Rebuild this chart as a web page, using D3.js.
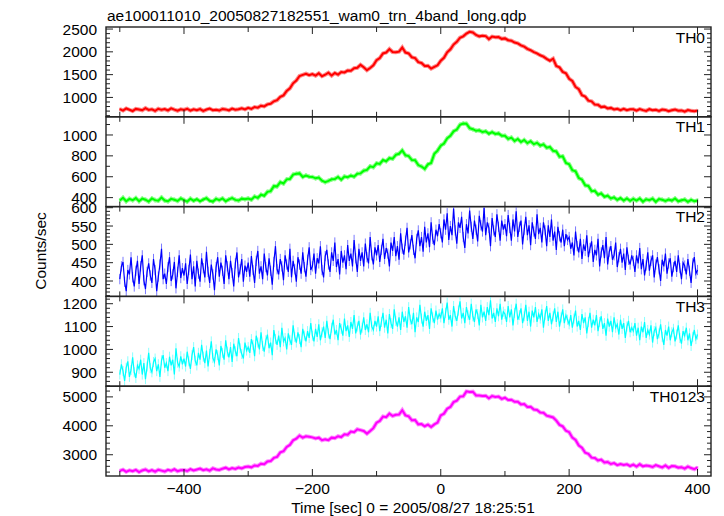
<!DOCTYPE html>
<html><head><meta charset="utf-8">
<script src="https://cdn.jsdelivr.net/npm/d3@7"></script>
<style>body{margin:0;background:#fff}svg{display:block}text{font-family:"Liberation Sans",Arial,sans-serif;fill:#000}</style>
</head><body><svg id="c" width="724" height="516"></svg>
<script>
// ---- data ----
// TH0, TH1, TH0123 in 5-s bins; TH2, TH3 (noisy) in 2.5-s bins
const times = d3.range(-500, 401, 5);
const timesFine = d3.range(-500, 400.1, 2.5);
const th0 = [
745,712,758,730,702,748,736,718,765,725,740,705,752,728,744,715,760,732,708,741,
726,752,710,738,721,745,703,734,756,719,731,712,748,737,716,755,729,741,760,738,
772,748,790,775,818,802,848,862,915,940,1012,1045,1142,1198,1310,1372,1470,1495,1520,1488,
1512,1478,1530,1465,1498,1542,1480,1535,1502,1558,1548,1590,1585,1640,1650,1715,1662,1598,1645,1705,
1815,1862,1965,1985,2060,1995,1990,2005,2095,1985,1965,1880,1862,1775,1755,1690,1695,1632,1670,1705,
1805,1870,1990,2055,2160,2220,2310,2340,2400,2440,2425,2370,2340,2355,2345,2280,2335,2320,2325,2285,
2295,2255,2245,2205,2185,2140,2115,2065,2035,1995,1965,1925,1895,1845,1805,1850,1690,1660,1560,1530,
1410,1360,1230,1180,1050,1020,930,915,842,838,788,798,758,770,735,752,722,750,720,738,
740,712,745,722,705,742,718,730,702,735,726,698,720,735,708,715,690,722,706,695,
710];
const th1 = [
372,398,365,388,375,395,366,390,380,362,392,376,370,400,372,365,388,380,368,392,
376,362,390,370,385,365,382,395,370,362,388,376,392,366,384,396,378,372,390,384,
392,380,410,398,428,418,455,462,510,508,548,535,575,578,620,628,632,598,612,600,
598,585,592,562,548,560,575,578,598,572,602,595,610,600,628,632,658,665,700,692,
728,722,760,748,778,772,810,820,852,805,798,760,758,712,698,675,718,732,820,850,
898,918,968,992,1035,1052,1098,1110,1108,1065,1055,1040,1045,1028,1035,1012,1028,1010,1015,992,
992,962,975,942,962,932,952,922,940,912,925,898,910,878,885,848,842,792,795,732,
720,662,652,588,572,518,512,462,465,428,440,408,418,392,402,378,396,372,392,370,
388,372,392,362,384,376,390,360,386,380,368,382,372,392,365,374,382,360,378,365,
372];
const th2 = [
405,440,452,398,372,430,418,465,410,385,428,455,392,440,470,402,378,425,448,415,
395,460,430,372,412,445,488,405,420,392,438,465,400,418,452,380,425,470,408,435,
415,448,392,430,472,405,440,385,455,420,398,462,435,410,480,425,395,445,418,375,
438,465,412,450,428,392,470,440,405,455,422,385,448,478,410,432,460,398,442,425,
450,412,468,430,395,455,482,420,440,405,475,438,415,462,428,390,452,495,432,418,
460,440,402,470,445,425,488,410,455,432,398,465,445,420,478,438,412,458,492,430,
440,475,420,462,448,495,430,410,468,485,445,425,478,455,505,438,460,418,482,450,
470,432,498,455,475,440,512,462,425,488,455,478,440,502,465,448,520,470,445,492,
470,498,452,485,515,460,490,475,440,505,482,520,468,495,458,530,488,472,510,545,
478,500,525,485,462,515,538,495,520,480,548,505,530,492,560,515,498,540,522,555,
530,505,568,540,585,512,550,525,598,538,502,560,545,575,520,490,555,530,592,548,
515,565,540,508,578,552,535,600,525,560,545,495,572,538,520,582,548,510,565,540,
555,522,580,545,510,568,535,590,520,548,565,500,540,575,525,552,498,560,535,515,
582,528,545,505,560,538,495,552,520,568,510,535,485,548,522,505,540,495,528,512,
520,488,505,470,535,495,478,515,460,500,482,525,465,490,508,452,485,470,515,440,
478,498,462,520,445,480,495,458,470,505,438,465,488,450,475,430,492,458,445,470,
455,425,470,448,490,432,460,415,442,478,428,455,470,410,445,465,432,400,458,440,
475,420,448,462,412,438,455,425,470,435,405,450,442,418,460,428,395,448,465,420,
430];
const th3 = [
890,935,905,862,920,948,880,910,965,900,875,930,915,955,890,940,870,925,985,918,
900,945,960,905,935,880,952,975,920,940,905,968,930,955,890,1005,942,925,970,935,
960,925,990,948,915,975,1010,950,930,985,955,1020,968,940,995,925,980,1035,962,945,
1000,975,930,1015,985,955,1040,990,965,1010,945,1025,992,970,1050,1005,980,960,1030,995,
1010,985,1045,1020,970,1060,1030,1000,1075,1015,990,1040,1065,1005,1030,975,1085,1045,1020,1060,
1010,1095,1035,1050,1000,1070,1040,1020,1105,1055,1030,1075,1045,1010,1090,1060,1035,1080,1050,1115,
1060,1035,1090,1055,1110,1040,1075,1100,1050,1125,1070,1045,1095,1130,1065,1085,1040,1115,1090,1060,
1135,1080,1105,1055,1120,1090,1150,1070,1100,1125,1065,1095,1140,1085,1110,1075,1160,1100,1085,1125,
1100,1145,1080,1120,1160,1095,1130,1070,1155,1115,1090,1175,1125,1100,1140,1085,1165,1120,1145,1095,
1185,1130,1110,1160,1075,1140,1120,1195,1135,1100,1165,1125,1150,1090,1180,1140,1115,1170,1130,1155,
1140,1180,1115,1160,1205,1130,1150,1100,1190,1145,1125,1170,1210,1135,1160,1115,1185,1150,1130,1200,
1145,1120,1175,1155,1105,1195,1140,1165,1125,1185,1150,1215,1135,1160,1120,1180,1145,1200,1130,1165,
1155,1120,1190,1140,1175,1105,1160,1200,1130,1150,1180,1115,1145,1195,1125,1165,1100,1170,1140,1185,
1120,1155,1135,1175,1095,1150,1190,1125,1160,1110,1145,1180,1120,1165,1100,1140,1175,1115,1150,1130,
1110,1150,1095,1135,1170,1100,1125,1085,1155,1115,1140,1070,1120,1160,1095,1130,1105,1150,1080,1120,
1145,1090,1115,1060,1135,1100,1125,1075,1140,1095,1110,1065,1130,1090,1115,1050,1100,1125,1075,1095,
1080,1115,1060,1095,1040,1100,1075,1120,1050,1085,1065,1105,1030,1080,1095,1045,1070,1110,1055,1020,
1085,1060,1100,1040,1075,1090,1035,1065,1105,1050,1025,1080,1060,1095,1040,1070,1015,1055,1085,1045,
1065];
const th0123 = [
2440,2485,2410,2462,2430,2475,2402,2458,2490,2425,2468,2415,2482,2450,2420,2478,2445,2498,2430,2465,
2470,2438,2502,2455,2488,2520,2468,2495,2450,2530,2492,2475,2518,2552,2495,2540,2512,2560,2528,2575,
2590,2565,2630,2615,2690,2675,2770,2780,2890,2925,3080,3120,3270,3340,3500,3555,3660,3590,3640,3620,
3600,3565,3590,3500,3530,3505,3590,3575,3640,3610,3705,3690,3800,3780,3880,3850,3820,3730,3820,3920,
4110,4170,4320,4300,4420,4340,4380,4390,4540,4360,4330,4190,4200,4050,4060,3985,4040,3960,4050,4110,
4360,4420,4590,4650,4820,4870,5010,5020,5190,5170,5180,5050,5050,5030,5040,4950,5030,5000,5010,4930,
4970,4890,4900,4830,4830,4740,4750,4650,4660,4560,4550,4460,4450,4350,4320,4290,4180,4030,3980,3830,
3780,3590,3510,3320,3240,3070,3030,2900,2890,2800,2830,2730,2750,2680,2710,2640,2680,2650,2670,2610,
2660,2590,2670,2600,2630,2610,2575,2640,2600,2560,2630,2545,2610,2600,2555,2570,2520,2590,2540,2500,
2560];
const seriesNames = ["TH0","TH1","TH2","TH3","TH0123"];
const seriesValues = [th0, th1, th2, th3, th0123];
const seriesTimes = [times, times, timesFine, timesFine, times];
const seriesErr = [30, 22, 14, 22, 48];
const yDomains = [[575,2545],[314,1174],[358,603],[839,1232],[2265,5369]];
const yMajorTicks = [[1000,1500,2000,2500],[400,600,800,1000],[400,450,500,550,600],[900,1000,1100,1200],[3000,4000,5000]];
const yMinorStep = [100,100,10,20,200];
const xTickValues = d3.range(-500, 401, 100);
const xTickLabels = [-400,-200,0,200,400];
const lineColors = ["#ff0000","#00ff00","#0000ff","#00ffff","#ff00ff"];
const errColors = ["#ff8a8a","#8aff8a","#7a7aff","#8affff","#ff8aff"];
const titleText = "ae100011010_20050827182551_wam0_trn_4band_long.qdp";
const xTitle = "Time [sec] 0 = 2005/08/27 18:25:51";
const yTitle = "Counts/sec";

// ---- layout ----
const L = 106, R = 711, T = 27, B = 476, FS = 15.5;
const nP = seriesNames.length, pH = (B - T) / nP;
const svg = d3.select("#c");
const x = d3.scaleLinear().domain([-521.5, 421]).range([L, R]);
const fmt = v => (v < 0 ? "\u2212" + Math.abs(v) : String(v));

svg.append("text").attr("x", 107).attr("y", 20.5).attr("font-size", FS).text(titleText);

seriesNames.forEach((name, i) => {
  const top = T + i * pH, bot = top + pH;
  const y = d3.scaleLinear().domain(yDomains[i]).range([bot, top]);
  const g = svg.append("g");
  const cid = "clip" + i;
  const fine = seriesTimes[i] === timesFine;
  svg.append("clipPath").attr("id", cid).append("rect").attr("x", L).attr("y", top).attr("width", R - L).attr("height", pH);
  const data = seriesTimes[i].map((t, k) => ({t, v: seriesValues[i][k]}));
  const dg = g.append("g").attr("clip-path", `url(#${cid})`);
  dg.selectAll("line.err").data(data).join("line")
    .attr("x1", d => x(d.t)).attr("x2", d => x(d.t))
    .attr("y1", d => y(d.v - seriesErr[i])).attr("y2", d => y(d.v + seriesErr[i]))
    .attr("stroke", errColors[i]).attr("stroke-width", fine ? 1 : 1.6);
  const ln = d3.line().x(d => x(d.t)).y(d => y(d.v));
  if (!fine) {
    dg.append("path").datum(data).attr("d", ln)
      .attr("fill", "none").attr("stroke", errColors[i]).attr("stroke-width", 4);
  }
  dg.append("path").datum(data).attr("d", ln)
    .attr("fill", "none").attr("stroke", lineColors[i]).attr("stroke-width", fine ? 1.2 : 2);

  // y ticks (both sides, inward)
  const [d0, d1] = yDomains[i], st = yMinorStep[i];
  const minor = d3.range(Math.ceil(d0 / st) * st, d1, st).filter(v => !yMajorTicks[i].includes(v));
  const tk = g.append("g").attr("stroke", "#222").attr("stroke-width", 1);
  minor.forEach(v => {
    tk.append("line").attr("x1", L).attr("x2", L + 4).attr("y1", y(v)).attr("y2", y(v));
    tk.append("line").attr("x1", R - 4).attr("x2", R).attr("y1", y(v)).attr("y2", y(v));
  });
  yMajorTicks[i].forEach(v => {
    tk.append("line").attr("x1", L).attr("x2", L + 7).attr("y1", y(v)).attr("y2", y(v));
    tk.append("line").attr("x1", R - 7).attr("x2", R).attr("y1", y(v)).attr("y2", y(v));
    g.append("text").attr("x", 97).attr("y", y(v)).attr("dy", "0.36em")
      .attr("text-anchor", "end").attr("font-size", FS).text(fmt(v));
  });
  // x ticks top & bottom, inward
  xTickValues.forEach(t => {
    const len = xTickLabels.includes(t) ? 7 : 5;
    tk.append("line").attr("x1", x(t)).attr("x2", x(t)).attr("y1", top).attr("y2", top + len);
    tk.append("line").attr("x1", x(t)).attr("x2", x(t)).attr("y1", bot).attr("y2", bot - len);
  });
  g.append("rect").attr("x", L).attr("y", top).attr("width", R - L).attr("height", pH)
    .attr("fill", "none").attr("stroke", "#222").attr("stroke-width", 1.4);
  g.append("text").attr("x", 705).attr("y", top + 15.5).attr("text-anchor", "end")
    .attr("font-size", FS).text(name);
});

xTickLabels.forEach(t => {
  svg.append("text").attr("x", x(t)).attr("y", 493.5).attr("text-anchor", "middle")
    .attr("font-size", FS).text(fmt(t));
});
svg.append("text").attr("x", 413).attr("y", 512.5).attr("text-anchor", "middle").attr("font-size", FS).text(xTitle);
svg.append("text").attr("transform", "translate(46,251) rotate(-90)").attr("text-anchor", "middle")
  .attr("font-size", FS).text(yTitle);
</script></body></html>
